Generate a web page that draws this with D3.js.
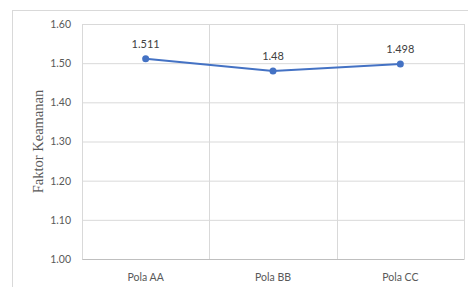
<!DOCTYPE html>
<html>
<head>
<meta charset="utf-8">
<script src="https://cdn.jsdelivr.net/npm/d3@7"></script>
<style>
  body { margin: 0; background: #fff; }
  svg { display: block; }
</style>
</head>
<body>
<div id="chart"></div>
<script>
// chart data
const categories = ["Pola AA", "Pola BB", "Pola CC"];
const values = [1.511, 1.48, 1.498];
const valueLabels = ["1.511", "1.48", "1.498"];
const yTicks = [1.0, 1.1, 1.2, 1.3, 1.4, 1.5, 1.6];
const yTitle = "Faktor Keamanan";

const W = 468, H = 287;
const margin = { top: 24, right: 4, bottom: 28, left: 82 };
const width = W - margin.left - margin.right,
  height = H - margin.top - margin.bottom;

const svg = d3.select("#chart").append("svg")
  .attr("width", W).attr("height", H);

// outer chart frame
svg.append("rect")
  .attr("x", 12.5).attr("y", 10.5)
  .attr("width", W).attr("height", H)
  .attr("fill", "none").attr("stroke", "#d9d9d9");

const g = svg.append("g")
  .attr("transform", `translate(${margin.left},${margin.top})`);

const x = d3.scaleBand().domain(categories).range([0, width]);
const y = d3.scaleLinear().domain([1.0, 1.6]).range([height, 0]);

// horizontal grid + y labels
const yAxis = g.append("g")
  .call(d3.axisLeft(y).tickValues(yTicks).tickFormat(d3.format(".2f"))
    .tickSize(-width).tickPadding(11));
yAxis.select(".domain").remove();
yAxis.selectAll(".tick line").attr("stroke", "#d9d9d9");
yAxis.selectAll("text")
  .style("font-family", "Lato, 'Open Sans', sans-serif")
  .style("font-size", "10.5px")
  .attr("fill", "#595959");

// vertical gridlines at band edges
const edges = categories.map(c => x(c)).concat([width]);
g.selectAll(".vgrid").data(edges).enter().append("line")
  .attr("x1", d => Math.round(d) + 0.5).attr("x2", d => Math.round(d) + 0.5)
  .attr("y1", 0).attr("y2", height)
  .attr("stroke", "#d9d9d9");

// x axis labels
const xAxis = g.append("g")
  .attr("transform", `translate(0,${height})`)
  .call(d3.axisBottom(x).tickSize(0).tickPadding(15));
xAxis.select(".domain").attr("stroke", "#bfbfbf");
xAxis.selectAll("text")
  .style("font-family", "Lato, 'Open Sans', sans-serif")
  .style("font-size", "10.5px")
  .attr("fill", "#595959");

// y title
svg.append("text")
  .attr("transform", `translate(43,${margin.top + height / 2}) rotate(-90)`)
  .attr("text-anchor", "middle")
  .style("font-family", "'Liberation Serif', 'DejaVu Serif', serif")
  .style("font-size", "14.5px")
  .attr("fill", "#595959")
  .text(yTitle);

// line
const cx = (d, i) => x(categories[i]) + x.bandwidth() / 2;
g.append("path")
  .datum(values)
  .attr("fill", "none")
  .attr("stroke", "#4472C4")
  .attr("stroke-width", 2)
  .attr("d", d3.line().x(cx).y(d => y(d)));

g.selectAll(".dot").data(values).enter().append("circle")
  .attr("cx", cx).attr("cy", d => y(d))
  .attr("r", 3.5).attr("fill", "#4472C4");

// data labels
g.selectAll(".lbl").data(values).enter().append("text")
  .attr("x", cx).attr("y", d => y(d) - 11)
  .attr("text-anchor", "middle")
  .style("font-family", "Lato, 'Open Sans', sans-serif")
  .style("font-size", "11px")
  .attr("fill", "#404040")
  .text((d, i) => valueLabels[i]);
</script>
</body>
</html>
